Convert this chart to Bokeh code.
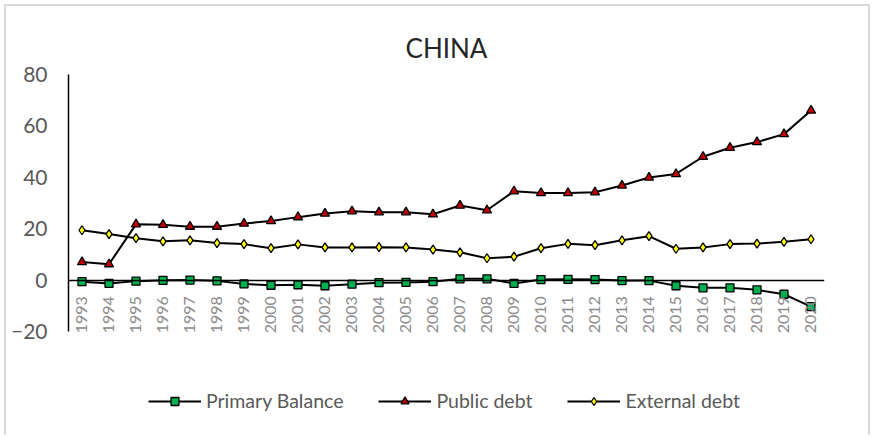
import math
from bokeh.plotting import figure
from bokeh.models import (FactorRange, Range1d, CategoricalAxis, FixedTicker,
                          Legend, LegendItem)
from bokeh.embed import file_html
from bokeh.resources import INLINE

years = [str(y) for y in range(1993, 2021)]
primary_balance = [-0.6, -1.3, -0.4, -0.1, 0.0, -0.3, -1.5, -2.0, -1.8, -2.2,
                   -1.6, -1.0, -0.9, -0.6, 0.5, 0.5, -1.3, 0.2, 0.3, 0.2,
                   -0.2, -0.2, -2.2, -3.0, -3.0, -3.8, -5.5, -10.3]
public_debt = [7.0, 6.2, 21.7, 21.5, 20.8, 20.8, 22.0, 23.0, 24.5, 25.9,
               26.8, 26.4, 26.4, 25.6, 29.0, 27.2, 34.6, 33.9, 33.9, 34.2,
               36.8, 39.9, 41.3, 48.0, 51.5, 53.7, 56.8, 66.0]
external_debt = [19.4, 17.9, 16.3, 15.1, 15.5, 14.4, 14.0, 12.4, 13.9, 12.7,
                 12.7, 12.8, 12.7, 11.9, 10.8, 8.5, 9.1, 12.4, 14.1, 13.6,
                 15.5, 17.1, 12.2, 12.7, 14.0, 14.2, 14.9, 15.9]
y_min, y_max = -20, 80
y_ticks = [-20, 0, 20, 40, 60, 80]
title_text = "CHINA"

FONT = "Lato"

# plot area spans 257 px for the -20..80 axis; the frame is extended down
# (axis line bounded) so that the legend can sit inside it
AXIS_PX = 257
FRAME_PX = 363
y_start = y_max - (y_max - y_min) * FRAME_PX / AXIS_PX

p = figure(width=866, height=431, output_backend="svg", toolbar_location=None,
           x_range=FactorRange(factors=years, range_padding=0),
           y_range=Range1d(y_start, y_max),
           x_axis_location=None,
           min_border_left=62, min_border_right=48,
           min_border_top=68, min_border_bottom=0,
           title=title_text)
p.styles = {"margin-left": "4px", "margin-top": "4px",
            "border-left": "2px solid #d9d9d9", "border-top": "2px solid #d9d9d9",
            "border-right": "2px solid #d9d9d9"}
p.outline_line_color = None
p.xgrid.visible = False
p.ygrid.visible = False
p.background_fill_color = "white"
p.border_fill_color = "white"

p.title.align = "center"
p.title.text_font = FONT
p.title.text_font_size = "26px"
p.title.text_font_style = "normal"
p.title.text_color = "#262626"
p.title.standoff = 22

# y axis
ya = p.yaxis[0]
ya.ticker = FixedTicker(ticks=y_ticks)
ya.bounds = (y_min, y_max)
ya.axis_line_color = "black"
ya.axis_line_width = 1.5
ya.major_tick_line_color = None
ya.minor_tick_line_color = None
ya.major_tick_out = 0
ya.major_label_standoff = 21
ya.major_label_text_font = FONT
ya.major_label_text_font_size = "21px"
ya.major_label_text_color = "#595959"

# x axis crossing at zero
xa = CategoricalAxis(fixed_location=0)
xa.axis_line_color = "black"
xa.axis_line_width = 1.5
xa.major_tick_line_color = None
xa.minor_tick_line_color = None
xa.major_tick_out = 0
xa.major_label_orientation = math.pi / 2
xa.major_label_standoff = 16
xa.major_label_text_font = FONT
xa.major_label_text_font_size = "16px"
xa.major_label_text_color = "#8c8c8c"
p.add_layout(xa, "below")

# series
l1 = p.line(years, primary_balance, line_color="black", line_width=2)
s1 = p.scatter(years, primary_balance, marker="square", size=8,
               fill_color="#00B050", line_color="black", line_width=1.3)
l2 = p.line(years, public_debt, line_color="black", line_width=2)
s2 = p.scatter(years, public_debt, marker="triangle", size=9,
               fill_color="#C00000", line_color="black", line_width=1.3)
l3 = p.line(years, external_debt, line_color="black", line_width=2)
s3 = p.scatter(years, external_debt, marker="diamond", size=9,
               fill_color="#FFFF00", line_color="black", line_width=1.3)

legend = Legend(items=[
    LegendItem(label="Primary Balance", renderers=[l1, s1]),
    LegendItem(label="Public debt", renderers=[l2, s2]),
    LegendItem(label="External debt", renderers=[l3, s3]),
], orientation="horizontal", location=(80, 25))
legend.label_text_font = FONT
legend.label_text_font_size = "19.5px"
legend.label_text_color = "#595959"
legend.glyph_width = 53
legend.glyph_height = 20
legend.label_standoff = 5
legend.spacing = 35
legend.padding = 0
legend.margin = 0
legend.border_line_color = None
legend.background_fill_alpha = 0
p.add_layout(legend, "center")

open("out.html", "w").write(file_html(p, INLINE))
